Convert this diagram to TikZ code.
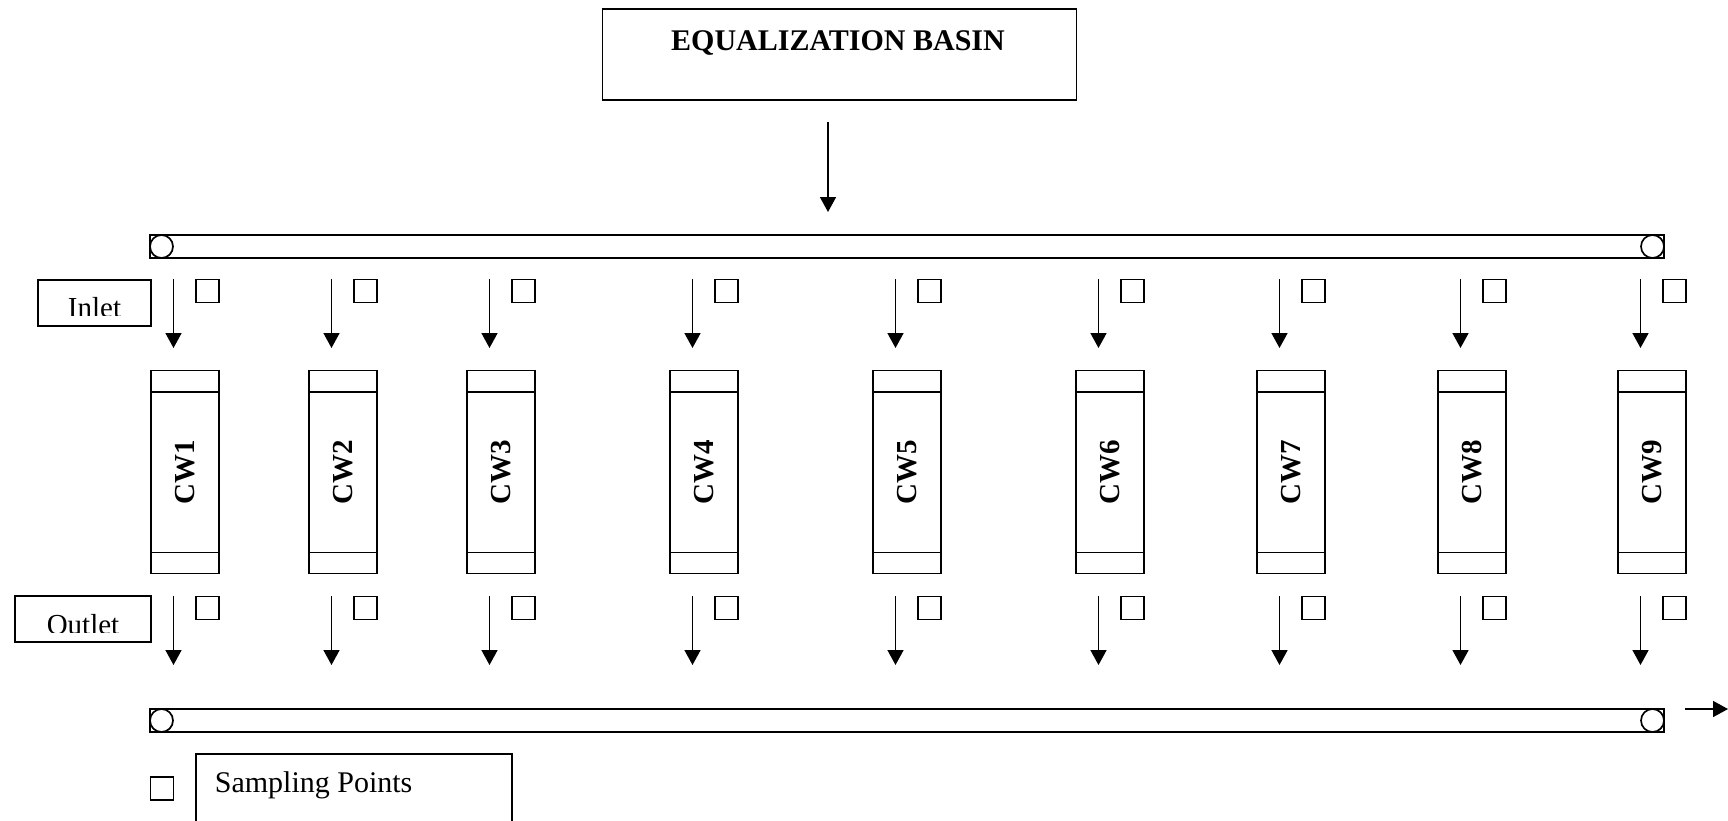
\documentclass[tikz,border=0pt]{standalone}
\usepackage{fontspec}
\setmainfont{Liberation Serif}
\usetikzlibrary{arrows.meta}
\begin{document}
\begin{tikzpicture}[x=1pt,y=-1pt,line width=1.7pt,
  cwbox/.style={draw,inner sep=0pt,minimum width=68pt,minimum height=203pt},
  cwlabel/.style={rotate=90,inner sep=0pt,font=\bfseries\fontsize{29}{29}\selectfont},
  spbox/.style={draw,inner sep=0pt,minimum size=23pt},
  pipe/.style={draw,inner sep=0pt,minimum width=1514pt,minimum height=23pt},
  valve/.style={draw,circle,inner sep=0pt,minimum size=23pt},
  flow/.style={-{Triangle[length=15pt,width=16pt]},line width=1.6pt},
  lbl/.style={inner sep=0pt,anchor=base,font=\fontsize{29}{29}\selectfont}]
\useasboundingbox (0,0) rectangle (1728,820);

% equalization basin
\node[draw,inner sep=0pt,minimum width=474pt,minimum height=91pt] (eq) at (839.5,54.5) {};
\node[inner sep=0pt,anchor=base,font=\bfseries\fontsize{30}{30}\selectfont] (eqt) at (838,50) {EQUALIZATION BASIN};
\coordinate (feedA) at (828,122);
\coordinate (feedB) at (828,212);
\draw[flow] (feedA) -- (feedB);

% pipes
\node[pipe] (toppipe) at (907,246.5) {};
\node[valve] (tv1) at (161.5,246.5) {};
\node[valve] (tv2) at (1652.5,246.5) {};
\node[pipe] (botpipe) at (907,720.5) {};
\node[valve] (bv1) at (161.5,720.5) {};
\node[valve] (bv2) at (1652.5,720.5) {};
\coordinate (outA) at (1685,709);
\coordinate (outB) at (1728,709);
\draw[flow] (outA) -- (outB);

% inlet / outlet labels
\node[draw,inner sep=0pt,minimum width=113pt,minimum height=46pt] (inletbox) at (94.5,303) {};
\begin{scope}
\clip (38,281) rectangle (150,315);
\node[lbl] (inlet) at (94.5,317.5) {Inlet};
\end{scope}
\node[draw,inner sep=0pt,minimum width=136pt,minimum height=46pt] (outletbox) at (83,618.7) {};
\begin{scope}
\clip (16,597) rectangle (150,632);
\node[lbl] (outlet) at (83,634) {Outlet};
\end{scope}

% constructed wetlands
\foreach \L [count=\i] in {151,309,467,670,873,1076,1257,1438,1618} {
  \node[cwbox] (cw\i) at (\L+34,472) {};
  \draw ([yshift=-22pt]cw\i.north west) -- ([yshift=-22pt]cw\i.north east);
  \draw ([yshift=22pt]cw\i.south west) -- ([yshift=22pt]cw\i.south east);
  \node[cwlabel] (cwl\i) at (cw\i.center) {CW\i};
  \coordinate (ia\i) at (\L+22.5,279);
  \coordinate (ib\i) at (\L+22.5,348);
  \draw[flow] (ia\i) -- (ib\i);
  \node[spbox] (spi\i) at (\L+56.5,291) {};
  \coordinate (oa\i) at (\L+22.5,596);
  \coordinate (ob\i) at (\L+22.5,665);
  \draw[flow] (oa\i) -- (ob\i);
  \node[spbox] (spo\i) at (\L+56.5,608) {};
}

% legend
\node[spbox] (legsq) at (162,788.5) {};
\draw (196,830) -- (196,754) -- (512,754) -- (512,830);
\node[inner sep=0pt,anchor=base west,font=\fontsize{30}{30}\selectfont] (legt) at (214,792) {Sampling Points};
\end{tikzpicture}
\end{document}
